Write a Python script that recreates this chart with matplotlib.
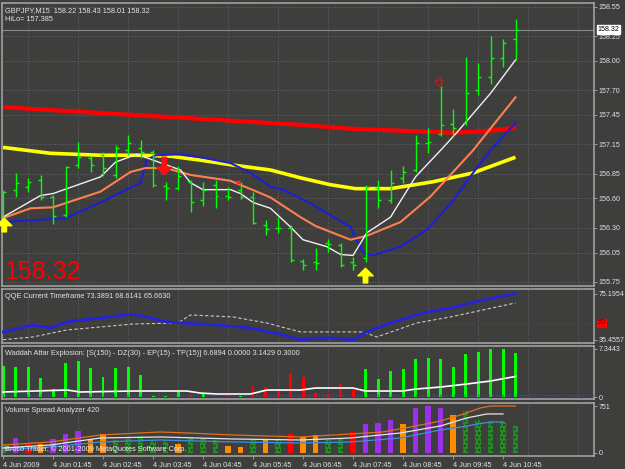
import numpy as np
import matplotlib.pyplot as plt

plt.rcParams['font.family'] = ['Liberation Sans', 'DejaVu Sans']

BG = '#3e3f3d'
TXT = '#e2e2e2'
GRID = '#6c6c7c'
FRAME = '#a8a8a8'

# ---- GBPJPY M15 bars, 4 Jun 2009 00:45 .. 11:00
bar_open = [156.43, 156.69, 156.72, 156.79, 156.62, 156.43, 156.94, 157.01, 157.04, 156.84,
            157.09, 157.11, 157.07, 156.73, 156.71, 156.77, 156.58, 156.74, 156.63, 156.69,
            156.62, 156.33, 156.30, 156.30, 155.96, 155.95, 156.15, 156.13, 155.95, 155.99,
            156.71, 156.58, 156.81, 156.89, 157.16, 157.26, 157.36, 157.37, 157.70, 157.84,
            158.03, 158.22]
bar_high = [156.69, 156.86, 156.81, 156.84, 156.64, 156.93, 157.18, 157.03, 157.07, 157.14,
            157.25, 157.20, 157.09, 156.77, 156.93, 156.79, 156.77, 156.79, 156.72, 156.77,
            156.67, 156.38, 156.41, 156.33, 155.98, 156.10, 156.19, 156.15, 156.00, 156.74,
            156.79, 156.89, 156.93, 157.25, 157.32, 157.75, 157.51, 158.04, 157.98, 158.25,
            158.22, 158.43]
bar_low = [156.38, 156.62, 156.67, 156.58, 156.34, 156.41, 156.91, 156.87, 156.83, 156.81,
           157.04, 157.01, 156.72, 156.58, 156.69, 156.46, 156.52, 156.50, 156.58, 156.59,
           156.34, 156.23, 156.25, 155.95, 155.87, 155.87, 156.06, 155.90, 155.87, 155.95,
           156.50, 156.55, 156.76, 156.87, 157.06, 157.24, 157.24, 157.35, 157.65, 157.77,
           157.94, 158.01]
bar_close = [156.67, 156.76, 156.77, 156.62, 156.42, 156.92, 157.02, 156.94, 156.91, 157.11,
             157.16, 157.07, 156.74, 156.71, 156.83, 156.56, 156.69, 156.63, 156.61, 156.62,
             156.35, 156.29, 156.30, 155.97, 155.92, 155.94, 156.14, 155.92, 155.92, 156.72,
             156.58, 156.76, 156.87, 157.16, 157.18, 157.35, 157.32, 157.67, 157.84, 158.03,
             158.18, 158.32]

# moving averages (bar index, price)
red_x = [0, 3.8, 7.8, 11.8, 15.8, 19.8, 23.8, 27.8, 31.8, 35.8, 38.2, 41]
red_ma = [157.53, 157.50, 157.47, 157.44, 157.41, 157.38, 157.35, 157.31, 157.29, 157.27, 157.28, 157.32]
yellow_x = [0, 3.8, 7.8, 11, 13.4, 15.8, 18.4, 21.4, 23.8, 26.2, 28.2, 31, 34.4, 37.6, 41]
yellow_ma = [157.12, 157.06, 157.04, 157.04, 157.03, 156.99, 156.94, 156.89, 156.81, 156.74,
             156.70, 156.70, 156.77, 156.86, 157.02]
blue_x = [0, 3.8, 5, 7.8, 11, 11.5, 12.2, 14.2, 15.8, 18.2, 19.8, 21.4, 22.4, 24.6, 27.8,
          28.3, 28.8, 29.6, 31.8, 33.9, 36, 37.6, 39, 41]
blue_ma = [156.36, 156.39, 156.40, 156.56, 156.76, 156.99, 157.04, 157.05, 157.02, 156.96,
           156.86, 156.72, 156.69, 156.55, 156.31, 156.18, 156.05, 156.02, 156.11, 156.28,
           156.58, 156.86, 157.09, 157.37]
coral_x = [0, 2.2, 4, 7.8, 10.2, 11.4, 13, 15, 18.2, 20.3, 21.4, 23.8, 25, 27.8, 29.1, 31.8,
           34.2, 37.6, 41]
coral_ma = [156.40, 156.50, 156.51, 156.67, 156.87, 156.91, 156.91, 156.84, 156.78, 156.67,
            156.61, 156.41, 156.32, 156.18, 156.22, 156.36, 156.62, 157.09, 157.63]
white_x = [0, 3, 4, 7.8, 9, 10.7, 11.8, 14.2, 15, 16, 18.2, 19, 20, 21.4, 23, 24, 25.9, 27,
           28, 29.1, 31, 33, 35, 36.3, 39, 41]
white_ma = [156.41, 156.63, 156.65, 156.82, 156.97, 157.05, 157.00, 156.89, 156.76, 156.69,
            156.69, 156.65, 156.56, 156.50, 156.31, 156.18, 156.11, 156.03, 156.02, 156.25,
            156.41, 156.82, 157.09, 157.27, 157.67, 158.01]

# signal arrows: (bar, tip price, tail price)
up_arrows = [(0.1, 156.40, 156.26), (29, 155.89, 155.74)]
down_arrows = [(12.9, 156.84, 157.02)]
hollow_arrows = [(34.9, 157.74, 157.83)]
small_marks = [(18.8, 156.77)]

price_ticks = [158.55, 158.25, 158.00, 157.70, 157.45, 157.15, 156.85, 156.60, 156.30, 156.05, 155.75]

# ---- QQE
qqe_x = [0, 2.4, 3.8, 5.1, 6.4, 7.8, 10.4, 11.8, 13.1, 14.4, 17.1, 19.8, 22.4, 23.8, 25.4,
         26.4, 28, 29.1, 31, 33.6, 35.8, 38.4, 41]
qqe_rsi = [42.3, 48.3, 45.7, 50.9, 52.6, 54.3, 57.7, 54.3, 50.9, 50.0, 48.3, 45.7, 39.7, 35.6,
           37.1, 37.1, 35.5, 42.3, 50.0, 58.6, 62.9, 69.8, 75.2]
trail_x = [0, 2.4, 5.1, 7.8, 10.4, 14, 15, 18.4, 21.1, 23.8, 28.8, 29.9, 33.1, 35.8, 38.4, 41]
qqe_trail = [35.6, 38.0, 44.0, 46.6, 49.1, 50.0, 56.9, 55.2, 50.0, 42.3, 42.3, 38.0, 50.0,
             55.2, 61.2, 67.2]

# ---- Waddah Attar Explosion
wae_up = [4.74, 4.59, 4.59, 2.91, 1.22, 5.20, 5.51, 4.44, 3.06, 4.44, 4.59, 3.37, 0.20, 0.12,
          0.77, 0, 0.60, 0, 0, 0.20, 0, 0, 0, 0, 0, 0, 0, 0, 0, 4.28, 2.75, 3.98, 4.28, 5.81,
          5.97, 5.81, 4.59, 6.58, 6.89, 7.3443, 7.30, 6.69]
wae_down = [0] * 15 + [0.30, 0, 0, 0.15, 0, 1.68, 1.53, 1.22, 3.52, 3.06, 0.60, 0.46, 1.99, 1.07] + [0] * 13
expl_x = [0, 5.1, 6.2, 10.4, 14.7, 15.8, 17.1, 19.8, 21.1, 23.8, 25, 28, 29, 32, 33, 35, 37.1, 39, 41]
expl_line = [0.77, 1.07, 0.77, 0.92, 0.92, 0.61, 0.46, 0.46, 1.07, 1.07, 1.38, 1.38, 0.92,
             0.92, 1.22, 1.53, 1.99, 2.45, 3.14]
dead_zone = 0.3

# ---- Volume Spread Analyzer
vsa_vol = [128, 240, 144, 144, 224, 304, 352, 224, 304, 208, 224, 272, 208, 208, 144, 240, 240,
           208, 112, 96, 208, 224, 208, 304, 256, 288, 208, 240, 336, 464, 480, 528, 464, 720,
           751, 720, 608, 672, 528, 512, 496, 432]
vsa_kind = 'gpropppoog' 'ggggogggoo' 'gogrooggrp' 'ppopppoggg' 'gg'
avg1_x = [0, 3.8, 7.8, 12.6, 14.7, 18.4, 21.1, 23.8, 27.8, 30.4, 32.6, 35, 36.6, 38.2, 39, 41]
avg1 = [128, 176, 288, 336, 320, 288, 272, 256, 304, 336, 416, 512, 608, 720, 751, 751]
avg2_x = [0, 3.8, 7.8, 12.6, 18.4, 23.8, 27.8, 31.8, 35, 37.1, 38.7, 40]
avg2 = [80, 128, 240, 256, 224, 208, 240, 320, 432, 560, 624, 624]
avg3_x = [0, 3.8, 7.8, 12.6, 18.4, 23.8, 27.8, 31.8, 35, 36.6, 39, 40]
avg3 = [48, 96, 176, 208, 176, 160, 176, 240, 368, 416, 496, 496]

label_bars = list(range(0, 41, 4))
time_labels = ['4 Jun 2009', '4 Jun 01:45', '4 Jun 02:45', '4 Jun 03:45', '4 Jun 04:45',
               '4 Jun 05:45', '4 Jun 06:45', '4 Jun 07:45', '4 Jun 08:45', '4 Jun 09:45',
               '4 Jun 10:45']
grid_bars = list(range(2, 47, 4))

W, H = 625, 469
fig = plt.figure(figsize=(W / 100, H / 100), dpi=100, facecolor=BG)


def panel(left, top, right, bottom):
    ax = fig.add_axes([left / W, 1 - bottom / H, (right - left) / W, (bottom - top) / H])
    ax.set_facecolor(BG)
    for s in ax.spines.values():
        s.set_color(FRAME)
        s.set_linewidth(1.1)
    ax.set_xlim(-0.08, 47.28)
    ax.yaxis.tick_right()
    ax.tick_params(axis='y', length=2.5, width=0.6, colors=FRAME, labelcolor=TXT,
                   labelsize=5.1, pad=1.0)
    ax.tick_params(axis='x', bottom=False, labelbottom=False)
    for g in grid_bars:
        ax.axvline(g, color=GRID, lw=0.6, ls=(0, (1, 2)), zorder=0)
    return ax


ax = panel(2, 3, 594, 286)
ax_q = panel(2, 289, 594, 343)
ax_w = panel(2, 346, 594, 399)
ax_v = panel(2, 403, 594, 456)

# ---- main chart
ax.set_ylim(155.709, 158.59)
ax.set_yticks(price_ticks)
ax.set_yticklabels(['%.2f' % p for p in price_ticks])
for p in price_ticks:
    ax.axhline(p, color=GRID, lw=0.6, ls=(0, (1, 2)), zorder=0)

ax.plot(red_x, red_ma, color='#ff0000', lw=3.0, solid_capstyle='butt', zorder=2)
ax.plot(yellow_x, yellow_ma, color='#ffff00', lw=2.6, solid_capstyle='butt', zorder=2)
ax.plot(blue_x, blue_ma, color='#1e1ed2', lw=1.5, zorder=3)
ax.plot(coral_x, coral_ma, color='#ff7f50', lw=1.5, zorder=3)
ax.plot(white_x, white_ma, color='#f0f0f0', lw=1.0, zorder=3)

idx = np.arange(len(bar_open))
tick = 0.24
ax.vlines(idx, bar_low, bar_high, color='#00ff00', lw=1.0, zorder=4)
ax.hlines(bar_open, idx - tick, idx, color='#00ff00', lw=1.0, zorder=4)
ax.hlines(bar_close, idx, idx + tick, color='#00ff00', lw=1.0, zorder=4)

ax.axhline(bar_close[-1], color='#8a8a8a', lw=0.8, zorder=1)

for x, tip, tail in up_arrows:
    ax.annotate('', xy=(x, tip), xytext=(x, tail),
                arrowprops=dict(arrowstyle='simple,head_width=1.1,head_length=0.55,tail_width=0.32',
                                color='#ffff00', shrinkA=0, shrinkB=0), zorder=6)
for x, tip, tail in down_arrows:
    ax.annotate('', xy=(x, tip), xytext=(x, tail),
                arrowprops=dict(arrowstyle='simple,head_width=1.1,head_length=0.55,tail_width=0.32',
                                color='#ff1010', shrinkA=0, shrinkB=0), zorder=6)
for x, tip, tail in hollow_arrows:
    ax.annotate('', xy=(x, tip), xytext=(x, tail),
                arrowprops=dict(arrowstyle='simple,head_width=0.6,head_length=0.4,tail_width=0.25',
                                fc=BG, ec='#e01010', lw=0.8, shrinkA=0, shrinkB=0), zorder=6)
for x, p in small_marks:
    ax.plot(x, p, marker='x', color='#ff2020', ms=3, mew=1.0, zorder=6)

ax.text(0.005, 0.985, 'GBPJPY,M15  158.22 158.43 158.01 158.32', transform=ax.transAxes,
        color=TXT, fontsize=5.3, va='top', ha='left')
ax.text(0.005, 0.955, 'HiLo= 157.385', transform=ax.transAxes,
        color=TXT, fontsize=5.3, va='top', ha='left')
ax.text(0.004, 0.024, '158.32', transform=ax.transAxes, color='#ff0000', fontsize=18,
        va='baseline', ha='left')
ax.text(1.006, bar_close[-1], '158.32', transform=ax.get_yaxis_transform(), va='center',
        ha='left', fontsize=5.1, color='black', clip_on=False,
        bbox=dict(boxstyle='square,pad=0.12', fc='white', ec='white'))

# ---- QQE
ax_q.set_ylim(32.8, 79.2)
ax_q.axhline(50, color='#ff0000', lw=0.8, ls=(0, (1, 1.5)), zorder=1)
ax_q.plot(trail_x, qqe_trail, color='#c8c8c8', lw=0.8, ls=(0, (3, 2)), zorder=2)
ax_q.plot(qqe_x, qqe_rsi, color='#2323d8', lw=2.0, zorder=3)
ax_q.set_yticks([75.1954, 35.4557])
ax_q.set_yticklabels(['75.1954', '35.4557'])
ax_q.text(1.006, 50, '50', transform=ax_q.get_yaxis_transform(), va='center', ha='left',
          fontsize=5.1, color='#5a0000', clip_on=False,
          bbox=dict(boxstyle='square,pad=0.1', fc='#ff0000', ec='#ff0000'))
ax_q.text(0.005, 0.93, 'QQE Current Timeframe 73.3891 68.6141 65.6630', transform=ax_q.transAxes,
          color=TXT, fontsize=5.3, va='top', ha='left')

# ---- Waddah Attar Explosion
ax_w.set_ylim(-0.3, 7.8)
ax_w.bar(idx, wae_up, width=0.24, color='#00ff00', zorder=2)
ax_w.bar(idx, wae_down, width=0.24, color='#ff0000', zorder=2)
ax_w.plot(expl_x, expl_line, color='#ffffff', lw=1.2, zorder=3)
ax_w.axhline(dead_zone, color='#2848ff', lw=1.0, ls=(0, (1, 1.5)), zorder=3)
ax_w.set_yticks([7.3443, 0])
ax_w.set_yticklabels(['7.3443', '0'])
ax_w.text(0.005, 0.93, 'Waddah Attar Explosion: [S(150) - DZ(30) - EP(15) - TP(15)] 6.6894 0.0000 3.1429 0.3000',
          transform=ax_w.transAxes, color=TXT, fontsize=5.3, va='top', ha='left')

# ---- Volume Spread Analyzer
ax_v.set_ylim(-48, 799)
vsa_colors = {'g': '#2a8a2a', 'p': '#9a30e8', 'r': '#ff0000', 'o': '#ff8c00'}
for i, (v, k) in enumerate(zip(vsa_vol, vsa_kind)):
    if k == 'g':
        ax_v.bar(i, v, width=0.42, color='#2a8a2a', hatch='....', edgecolor='#0f4f0f', lw=0, zorder=2)
    else:
        ax_v.bar(i, v, width=0.42, color=vsa_colors[k], lw=0, zorder=2)
ax_v.plot(avg1_x, avg1, color='#e0701e', lw=0.9, zorder=3)
ax_v.plot(avg2_x, avg2, color='#e4e4e4', lw=0.9, zorder=3)
ax_v.plot(avg3_x, avg3, color='#3a8ee6', lw=0.9, zorder=3)
ax_v.set_yticks([751, 0])
ax_v.set_yticklabels(['751', '0'])
ax_v.text(0.005, 0.93, 'Volume Spread Analyzer 420', transform=ax_v.transAxes,
          color=TXT, fontsize=5.3, va='top', ha='left')
ax_v.text(0.005, 0.06, 'Broco Trader, \u00a9 2001-2009 MetaQuotes Software Corp.',
          transform=ax_v.transAxes, color='#f0f0f0', fontsize=5.3, va='bottom', ha='left', zorder=5)

ax_v.tick_params(axis='x', bottom=True, labelbottom=True, length=2.5, width=0.6,
                 colors=FRAME, labelcolor=TXT, labelsize=5.3, pad=1.5)
ax_v.set_xticks(label_bars)
ax_v.set_xticklabels(time_labels, ha='left')

fig.savefig('out.png', dpi=100, facecolor=BG)
